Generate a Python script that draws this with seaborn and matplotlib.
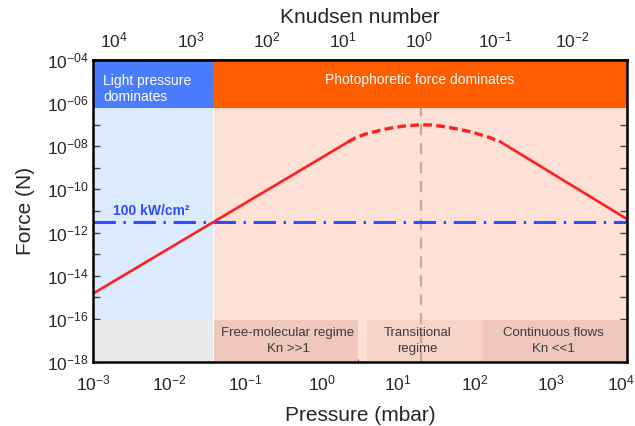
import numpy as np
import pandas as pd
import matplotlib
matplotlib.use("Agg")
import matplotlib.pyplot as plt
import matplotlib.ticker as mticker
import matplotlib.transforms as mtransforms
import seaborn as sns

# ---- data ----
p_free = [1.0e-3, 2.20]                      # mbar, solid rising branch
f_free = [1.48e-15, 1.58e-8]                 # N
p_trans = [2.20, 2.72, 3.67, 4.97, 6.71, 9.08, 12.3, 18.2, 26.1, 35.3, 52.2, 87.3, 146, 216]
f_trans = [1.58e-8, 2.40e-8, 3.63e-8, 4.79e-8, 6.17e-8, 7.59e-8, 8.71e-8, 9.77e-8,
           9.77e-8, 8.71e-8, 6.92e-8, 4.79e-8, 2.82e-8, 1.66e-8]
p_cont = [216, 1.0e4]
f_cont = [1.66e-8, 4.22e-12]
light_force = 3.0e-12                        # 100 kW/cm2 light pressure
light_label = "100 kW/cm²"
p_cross = 0.0374                             # light pressure / photophoretic boundary
kn_const = 19.0                              # Kn = kn_const / P
p_kn1 = 20.0                                 # Kn = 1 marker
band_top_low = 6.0e-7
band_bot_high = 8.5e-17
regime_edges = [p_cross, 3.0, 3.9, 125, 1.0e4]
regime_names = ["Free-molecular regime\nKn >>1", "Transitional\nregime", "Continuous flows\nKn <<1"]
regime_text_x = [0.36, 18.0, 1070]
xlim = (1e-3, 1e4)
ylim = (1e-18, 1e-4)
xticks = [1e-3, 1e-2, 1e-1, 1e0, 1e1, 1e2, 1e3, 1e4]
kn_ticks = [1e4, 1e3, 1e2, 1e1, 1e0, 1e-1, 1e-2]
yticks_lab = [-18, -16, -14, -12, -10, -8, -6, -4]

sns.set_style("ticks")
plt.rcParams["font.family"] = ["Liberation Sans", "DejaVu Sans"]
plt.rcParams["mathtext.fontset"] = "custom"
plt.rcParams["mathtext.rm"] = "Liberation Sans"
plt.rcParams["mathtext.it"] = "Liberation Sans:italic"
plt.rcParams["mathtext.bf"] = "Liberation Sans:bold"

fig = plt.figure(figsize=(6.35, 4.26), dpi=100)
ax = fig.add_axes([0.1465, 0.1502, 0.8409, 0.709])
ax.set_xscale("log")
ax.set_yscale("log")
ax.set_xlim(*xlim)
ax.set_ylim(*ylim)

# background regions
ax.axvspan(xlim[0], p_cross, color="#dbeafc", zorder=0, lw=0)
ax.axvspan(p_cross, xlim[1], color="#fde0d6", zorder=0, lw=0)
# top bands
ax.fill_between([xlim[0], p_cross], band_top_low, ylim[1], color="#4a7cfe", lw=0, zorder=3)
ax.fill_between([p_cross, xlim[1]], band_top_low, ylim[1], color="#ff5e00", lw=0, zorder=3)
# bottom bands
ax.fill_between([xlim[0], p_cross], ylim[0], band_bot_high, color="#e8ebea", lw=0, zorder=1)
ax.fill_between([regime_edges[0], regime_edges[1]], ylim[0], band_bot_high, color="#f0c8bb", lw=0, zorder=1)
ax.fill_between([regime_edges[2], regime_edges[3]], ylim[0], band_bot_high, color="#f6d3c7", lw=0, zorder=1)
ax.fill_between([regime_edges[3], regime_edges[4]], ylim[0], band_bot_high, color="#f0c8bb", lw=0, zorder=1)
ax.axvline(p_cross, color="white", lw=0.8, zorder=2)

# Kn = 1 marker
ax.axvline(p_kn1, color="#c4ab97", lw=1.6, dashes=(5, 3.5), zorder=2)

# light pressure line
ax.axhline(light_force, color="#2e4cff", lw=2.2, dashes=(7.3, 2.5, 0.8, 2.5), zorder=4)

# photophoretic force curve
df_free = pd.DataFrame({"P": p_free, "F": f_free})
df_trans = pd.DataFrame({"P": p_trans, "F": f_trans})
df_cont = pd.DataFrame({"P": p_cont, "F": f_cont})
sns.lineplot(data=df_free, x="P", y="F", ax=ax, color="#ff1f1f", lw=1.9, zorder=5)
sns.lineplot(data=df_trans, x="P", y="F", ax=ax, color="#ff1f1f", lw=2.4, zorder=5).lines[-1].set_dashes((2.6, 1.3))
sns.lineplot(data=df_cont, x="P", y="F", ax=ax, color="#ff1f1f", lw=1.9, zorder=5)

# texts
ax.text(1.35e-3, 4.5e-6, "Light pressure\ndominates", color="white", fontsize=10,
        ha="left", va="center", zorder=6, linespacing=1.15)
ax.text(19.0, 1.15e-5, "Photophoretic force dominates", color="white", fontsize=10,
        ha="center", va="center", zorder=6)
ax.text(1.8e-3, 1.0e-11, light_label, color="#2e4cff", fontsize=10, fontweight="bold",
        ha="left", va="center", zorder=6)
for name, x in zip(regime_names, regime_text_x):
    ax.text(x, 0.95e-17, name, color="#3a3a3a", fontsize=9.5, ha="center", va="center",
            zorder=6, linespacing=1.45)

# axes styling
for s in ax.spines.values():
    s.set_color("black")
    s.set_linewidth(1.8)
    s.set_zorder(10)

ax.xaxis.set_major_locator(mticker.FixedLocator(xticks))
ax.xaxis.set_major_formatter(mticker.FuncFormatter(
    lambda v, p: r"$10^{%d}$" % int(round(np.log10(v)))))
ax.xaxis.set_minor_locator(mticker.LogLocator(base=10, subs=np.arange(2, 10), numticks=50))
ax.xaxis.set_minor_formatter(mticker.NullFormatter())

ax.yaxis.set_major_locator(mticker.FixedLocator([10.0 ** e for e in range(-18, -3)]))
def yfmt(v, p):
    e = int(round(np.log10(v)))
    if e in yticks_lab:
        return r"$10^{-%02d}$" % abs(e)
    return ""
ax.yaxis.set_major_formatter(mticker.FuncFormatter(yfmt))
ax.yaxis.set_minor_locator(mticker.NullLocator())

ax.tick_params(axis="both", which="major", direction="in", length=5, width=1.0,
               color="#444444", labelsize=12.5, zorder=11)
ax.tick_params(axis="x", which="major", pad=8)
ax.tick_params(axis="y", which="major", right=True, pad=3)
ax.tick_params(axis="x", which="minor", direction="in", length=2.5, width=0.8, color="#666666")

ax.set_xlabel("Pressure (mbar)", fontsize=15, labelpad=9)
ax.set_ylabel("Force (N)", fontsize=15, labelpad=9)

sec = ax.secondary_xaxis("top", functions=(lambda p: kn_const / p, lambda k: kn_const / k))
sec.xaxis.set_major_locator(mticker.FixedLocator(kn_ticks))
sec.xaxis.set_major_formatter(mticker.FuncFormatter(
    lambda v, p: r"$10^{%d}$" % int(round(np.log10(v)))))
sec.xaxis.set_minor_locator(mticker.LogLocator(base=10, subs=np.arange(2, 10), numticks=50))
sec.xaxis.set_minor_formatter(mticker.NullFormatter())
sec.tick_params(axis="x", which="major", direction="in", length=5, width=1.0,
                color="#8a8070", labelsize=12.5, pad=7)
sec.tick_params(axis="x", which="minor", direction="in", length=2.5, width=0.8, color="#8a8070")
sec.set_xlabel("Knudsen number", fontsize=15, labelpad=5)
sec.spines["top"].set_linewidth(1.8)

# nudge the last bottom tick label so it stays inside the figure
fig.canvas.draw()
last = ax.xaxis.get_major_ticks()[-1].label1
last.set_transform(last.get_transform() +
                   mtransforms.ScaledTranslation(-6 / 100, 0, fig.dpi_scale_trans))

fig.savefig("out.png", dpi=100)
